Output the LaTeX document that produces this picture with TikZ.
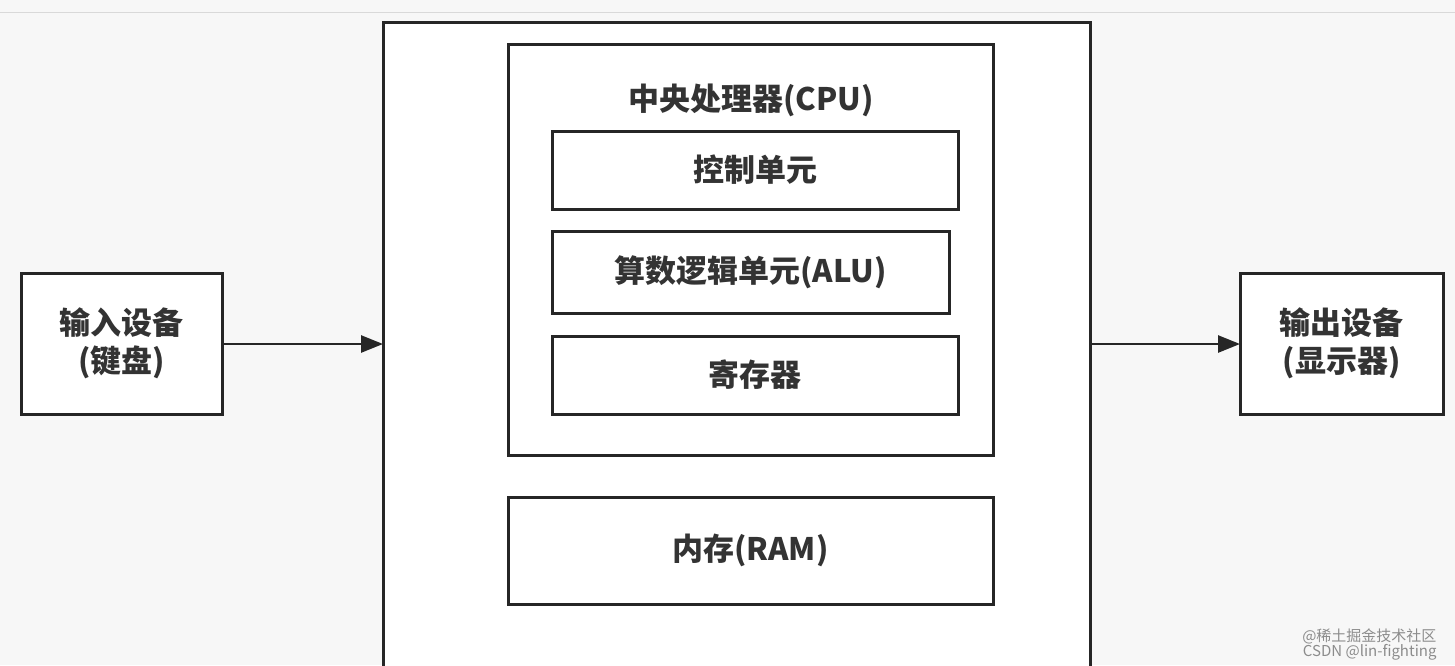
\documentclass[tikz,border=0pt]{standalone}
\usepackage{fontspec}
\newfontfamily\cjk{Noto Sans CJK SC}
\usetikzlibrary{arrows.meta}
\begin{document}
\begin{tikzpicture}[x=1pt,y=-1pt,
  bx/.style={draw=black!85,line width=3pt,fill=white},
  lbl/.style={font=\cjk\bfseries\fontsize{31}{38}\selectfont,text=black!80,align=center},
  arr/.style={draw=black!85,line width=2.6pt,-{Triangle[length=22pt,width=17pt]}}]
\fill[black!3] (0,0) rectangle (1455,665);
\useasboundingbox (0,0) rectangle (1455,665);
\draw[black!15,line width=1pt] (0,12) -- (1455,12);
\draw[bx] (383,22) rectangle (1090,672);
\coordinate (outL) at (383,344);
\coordinate (outR) at (1090,344);
\draw[bx] (508,44) rectangle (993,455);
\node[lbl] (cpu) at (751,100) {中央处理器(CPU)};
\draw[bx] (552,131) rectangle (958,209) node[lbl,midway] (ctrl) {控制单元};
\draw[bx] (552,231) rectangle (949,313) node[lbl,midway] (alu) {算数逻辑单元(ALU)};
\draw[bx] (552,336) rectangle (958,414) node[lbl,midway] (reg) {寄存器};
\draw[bx] (508,497) rectangle (993,604) node[lbl,midway] (ram) {内存(RAM)};
\draw[bx] (21,273) rectangle (222,414) node[lbl,midway] (in) {输入设备\\(键盘)};
\draw[bx] (1240,273) rectangle (1443,414) node[lbl,midway] (out) {输出设备\\(显示器)};
\coordinate (inR) at (222,344);
\coordinate (outpL) at (1240,344);
\draw[arr] (inR) -- (outL);
\draw[arr] (outR) -- (outpL);
\node[font=\cjk\fontsize{15}{17}\selectfont,text=black!45,anchor=east] (wm1) at (1440,636) {@稀土掘金技术社区};
\node[font=\cjk\fontsize{15}{17}\selectfont,text=black!45,anchor=east] (wm2) at (1440,652) {CSDN @lin-fighting};
\end{tikzpicture}
\end{document}
